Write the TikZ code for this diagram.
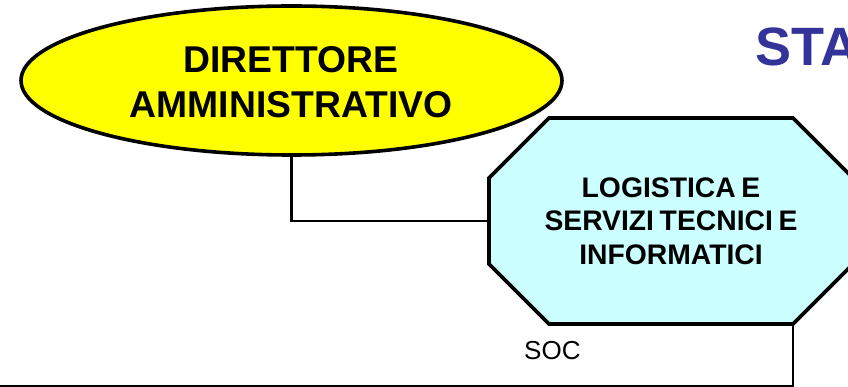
\documentclass[tikz,border=0pt]{standalone}
\usepackage{fontspec}
\setmainfont{Liberation Sans}
\newfontfamily\boxfont[WordSpace=0.72]{Liberation Sans}
\definecolor{dirfill}{RGB}{255,255,0}
\definecolor{logfill}{RGB}{204,255,255}
\definecolor{titleblue}{RGB}{51,51,153}
\tikzset{
  x=1pt,y=-1pt,
  heavy/.style={draw=black,line width=3.6pt,line join=miter},
  link/.style={draw=black,line width=2.4pt,line join=miter},
  headtext/.style={font=\bfseries\fontsize{37.3}{45}\selectfont,align=center,text=black},
  boxtext/.style={font=\boxfont\bfseries\fontsize{28.3}{33.5}\selectfont,align=center,text=black},
}
\begin{document}
\begin{tikzpicture}
\useasboundingbox (0,0) rectangle (848,387);
\clip (0,0) rectangle (848,387);
\coordinate (bl) at (-5,386);
\coordinate (lc) at (793,324);
\node[inner sep=0pt,minimum width=364pt,minimum height=206pt] (log) at (671,221) {};
\node[inner sep=0pt,minimum width=541pt,minimum height=149pt] (dirbox) at (291.5,80.5) {};
\draw[link] (dirbox.south) |- (log.west);
\draw[link] (lc) |- (bl);
\draw[heavy,fill=dirfill] (dirbox.center) ellipse [x radius=270.5,y radius=74.5];
\draw[heavy,fill=logfill] (549,118) -- (793,118) -- (853,178) -- (853,264) -- (793,324) -- (549,324) -- (489,264) -- (489,178) -- cycle;
\node[headtext,inner sep=0pt] (dirtext) at (291,82.5) {DIRETTORE\\AMMINISTRATIVO};
\node[boxtext,inner sep=0pt] (logtext) at (671,221) {LOGISTICA E\\SERVIZI TECNICI E\\INFORMATICI};
\node[anchor=base west,inner sep=0pt,font=\fontsize{26}{30}\selectfont,text=black] (soc) at (524,359.5) {SOC};
\node[anchor=base west,inner sep=0pt,font=\bfseries\fontsize{54}{60}\selectfont,text=titleblue] (title) at (755,66) {STA};
\end{tikzpicture}
\end{document}
